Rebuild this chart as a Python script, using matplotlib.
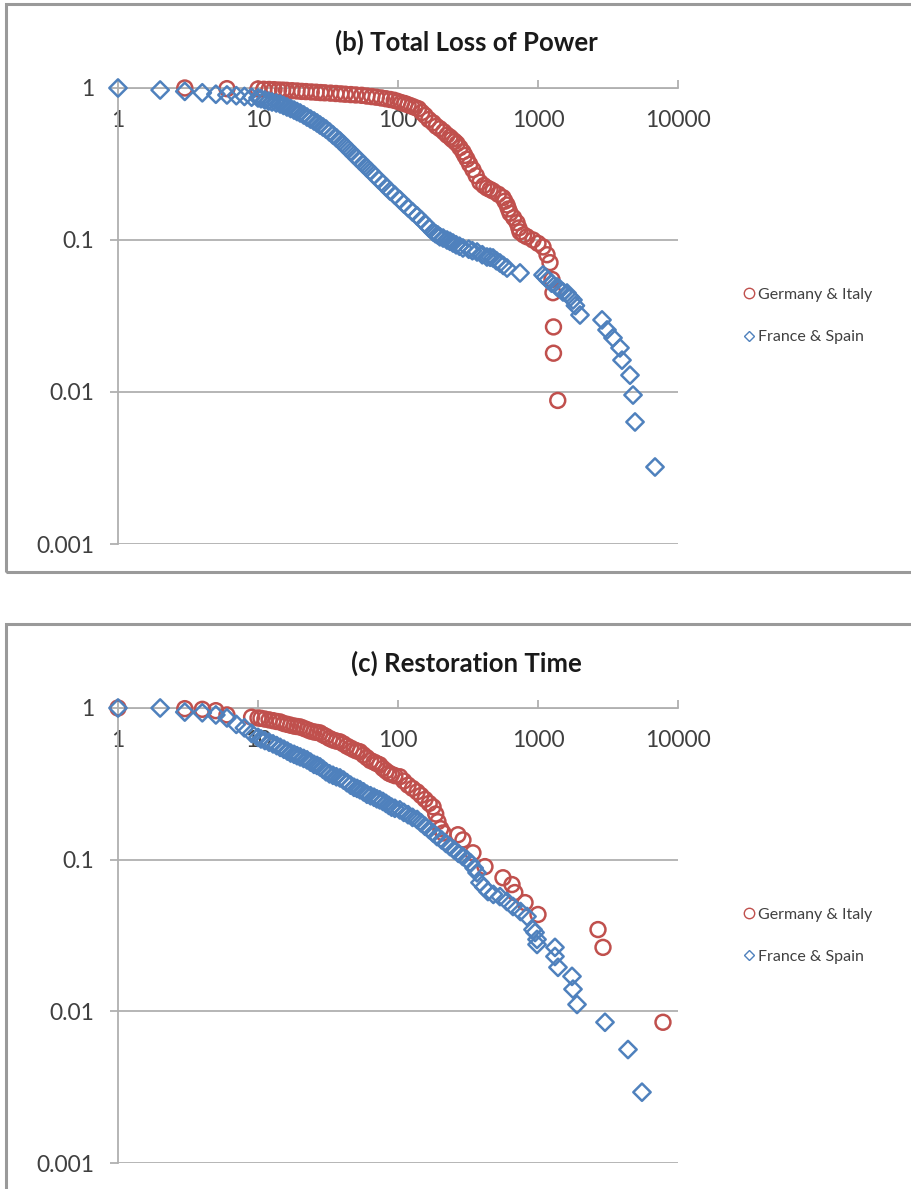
import matplotlib
matplotlib.use('Agg')
import matplotlib.pyplot as plt
from matplotlib.patches import Rectangle
from matplotlib.lines import Line2D
from matplotlib.ticker import FixedLocator, FixedFormatter, NullLocator

plt.rcParams['font.family'] = ['Lato', 'DejaVu Sans']

RED = '#c0504d'
BLUE = '#4f81bd'
GRID = '#b0b0b0'
TEXT = '#404040'

series_names = ['Germany & Italy', 'France & Spain']
x_ticks = [1, 10, 100, 1000, 10000]
x_labels = ['1', '10', '100', '1000', '10000']
y_ticks = [0.001, 0.01, 0.1, 1]
y_labels = ['0.001', '0.01', '0.1', '1']

# (b) Total Loss of Power - Germany & Italy
loss_gi_x = [3, 6, 10, 11, 12, 13, 14, 15, 16, 17.5, 19, 20.5, 22, 24, 26, 28, 30, 33, 36, 39,
             42, 46, 50, 55, 60, 65, 70, 76, 82, 88, 94, 100, 106, 112, 118, 125, 132, 140, 148,
             156, 166, 178, 188, 199, 212, 224, 235, 243, 254, 264, 277, 291, 300, 311, 325, 343,
             362, 385, 410, 432, 455, 477, 520, 562, 580, 601, 615, 632, 670, 708, 730, 744, 790,
             834, 921, 1000, 1086, 1160, 1218, 1258, 1279, 1290, 1290, 1384]
loss_gi_y = [1.0, 0.99, 0.985, 0.98, 0.978, 0.975, 0.97, 0.968, 0.965, 0.96, 0.956, 0.95, 0.947,
             0.942, 0.938, 0.933, 0.93, 0.925, 0.92, 0.915, 0.91, 0.905, 0.9, 0.895, 0.885, 0.878,
             0.87, 0.86, 0.85, 0.84, 0.83, 0.815, 0.8, 0.79, 0.775, 0.76, 0.745, 0.73, 0.69, 0.66,
             0.62, 0.59, 0.56, 0.54, 0.515, 0.49, 0.475, 0.46, 0.445, 0.43, 0.405, 0.38, 0.36, 0.34,
             0.315, 0.29, 0.265, 0.24, 0.228, 0.22, 0.215, 0.21, 0.2, 0.19, 0.18, 0.17, 0.16, 0.15,
             0.14, 0.13, 0.12, 0.113, 0.108, 0.105, 0.1, 0.095, 0.09, 0.08, 0.071, 0.055, 0.045,
             0.0268, 0.018, 0.0088]

# (b) Total Loss of Power - France & Spain
loss_fs_x = [1, 2, 3, 4, 5, 6, 7, 8, 9, 10, 10.5, 11.2, 11.9, 12.6, 13.5, 14.4, 15.2, 16.1, 17.1,
             18.1, 19, 20, 21.2, 22.4, 23.7, 25.1, 26.4, 27.7, 29.1, 30.6, 32.4, 34.3, 36.3, 38.5,
             40.8, 43.2, 45.8, 48.5, 51, 53.5, 56.7, 60, 63.6, 67.4, 72.6, 78.2, 82.8, 87.7, 95,
             103, 110, 118, 127, 137, 146, 156, 167, 178, 185, 192, 199, 210, 224, 235, 247, 260,
             275, 291, 320, 340, 367, 400, 432, 455, 477, 505, 535, 565, 601, 744, 1086, 1130,
             1179, 1250, 1367, 1420, 1509, 1611, 1700, 1778, 1850, 1995, 2866, 3112, 3434, 3853,
             3981, 4541, 4773, 4932, 6852]
loss_fs_y = [1.0, 0.97, 0.95, 0.93, 0.91, 0.9, 0.89, 0.88, 0.87, 0.86, 0.85, 0.834, 0.82, 0.809,
             0.797, 0.785, 0.768, 0.75, 0.733, 0.716, 0.7, 0.685, 0.665, 0.644, 0.625, 0.607, 0.589,
             0.571, 0.554, 0.537, 0.514, 0.491, 0.47, 0.448, 0.425, 0.403, 0.382, 0.362, 0.346,
             0.331, 0.314, 0.298, 0.283, 0.268, 0.25, 0.234, 0.222, 0.21, 0.197, 0.184, 0.173,
             0.163, 0.153, 0.144, 0.136, 0.128, 0.12, 0.113, 0.11, 0.108, 0.105, 0.103, 0.1, 0.098,
             0.0955, 0.093, 0.091, 0.0886, 0.087, 0.085, 0.0834, 0.08, 0.0773, 0.077, 0.0762, 0.073,
             0.0706, 0.068, 0.0654, 0.0607, 0.0589, 0.057, 0.0546, 0.052, 0.0491, 0.048, 0.0455,
             0.0448, 0.042, 0.0403, 0.037, 0.0321, 0.0298, 0.0256, 0.0227, 0.0195, 0.0162, 0.0129,
             0.00955, 0.00635, 0.00321]

# (c) Restoration Time - Germany & Italy
rest_gi_x = [1, 3, 4, 5, 6, 9, 10, 10.5, 11.2, 12, 12.8, 13.6, 14.4, 15.3, 16.2, 17.1, 18.1, 19,
             20, 21.2, 22.4, 23.7, 25.1, 26.4, 27.7, 29.1, 30.6, 32.4, 34.3, 36.3, 38.5, 40.8,
             43.2, 45.8, 48.5, 51, 53.5, 56.7, 60, 63.6, 67.4, 70.6, 74, 78, 82, 86, 90, 95, 103,
             110, 118, 127, 137, 146, 156, 167, 178, 186, 193, 202, 210, 268, 291, 343, 418, 562,
             652, 683, 808, 1000, 2683, 2912, 7810]
rest_gi_y = [1.0, 0.99, 0.98, 0.96, 0.9, 0.87, 0.86, 0.855, 0.845, 0.835, 0.825, 0.815, 0.809,
             0.79, 0.78, 0.77, 0.76, 0.755, 0.75, 0.735, 0.72, 0.705, 0.695, 0.69, 0.685, 0.665,
             0.65, 0.63, 0.615, 0.605, 0.598, 0.58, 0.56, 0.545, 0.53, 0.52, 0.514, 0.49, 0.47,
             0.45, 0.44, 0.43, 0.422, 0.4, 0.385, 0.372, 0.365, 0.358, 0.352, 0.33, 0.31, 0.295,
             0.28, 0.265, 0.25, 0.235, 0.223, 0.2, 0.178, 0.16, 0.15, 0.146, 0.135, 0.111, 0.09,
             0.076, 0.0685, 0.0607, 0.0521, 0.0435, 0.0346, 0.0264, 0.00847]

# (c) Restoration Time - France & Spain
rest_fs_x = [1, 2, 3, 4, 5, 6, 7, 8, 9, 10, 10.5, 11.2, 12, 12.8, 13.6, 14.4, 15.3, 16.2, 17.1,
             18.1, 19, 20, 21.2, 22.4, 23.7, 25.1, 26.4, 27.7, 29.1, 30.6, 32.4, 34.3, 36.3, 38.5,
             40.8, 43.2, 45.8, 48.5, 51, 53.5, 56.7, 60, 63.6, 67.4, 70.6, 74, 78, 82, 86, 90, 95,
             103, 110, 118, 127, 137, 146, 156, 167, 178, 190, 205, 220, 235, 252, 270, 290, 311,
             330, 350, 367, 385, 410, 439, 480, 535, 600, 663, 750, 835, 921, 953, 984, 984, 1322,
             1322, 1389, 1749, 1778, 1900, 3010, 4394, 5530]
rest_fs_y = [1.0, 1.0, 0.94, 0.93, 0.9, 0.86, 0.78, 0.74, 0.68, 0.64, 0.625, 0.61, 0.595, 0.58,
             0.565, 0.55, 0.535, 0.52, 0.505, 0.495, 0.485, 0.476, 0.465, 0.455, 0.44, 0.425,
             0.418, 0.409, 0.395, 0.38, 0.368, 0.36, 0.352, 0.346, 0.335, 0.322, 0.31, 0.3, 0.295,
             0.289, 0.28, 0.27, 0.264, 0.258, 0.252, 0.248, 0.242, 0.235, 0.228, 0.222, 0.218,
             0.213, 0.205, 0.198, 0.19, 0.184, 0.175, 0.166, 0.158, 0.15, 0.142, 0.135, 0.128,
             0.122, 0.116, 0.11, 0.105, 0.1, 0.095, 0.088, 0.082, 0.0706, 0.066, 0.0616, 0.059,
             0.0571, 0.053, 0.0491, 0.0455, 0.0422, 0.0346, 0.0331, 0.0298, 0.0276, 0.0264, 0.023,
             0.0195, 0.017, 0.014, 0.0111, 0.00847, 0.0056, 0.00293]

W, H = 912, 1189
fig = plt.figure(figsize=(W / 100, H / 100), dpi=100)


def px_box(left, top, right, bottom):
    return [left / W, 1 - bottom / H, (right - left) / W, (bottom - top) / H]


def draw_panel(ax, title, title_y, gx, gy, fx, fy):
    ax.set_xscale('log')
    ax.set_yscale('log')
    ax.set_xlim(1, 10000)
    ax.set_ylim(0.001, 1)

    ax.scatter(gx, gy, s=115, marker='o', facecolors='none', edgecolors=RED,
               linewidths=1.8, clip_on=False, zorder=3)
    ax.scatter(fx, fy, s=78, marker='D', facecolors='none', edgecolors=BLUE,
               linewidths=1.8, clip_on=False, zorder=4)

    for s in ['right', 'bottom']:
        ax.spines[s].set_visible(False)
    for s in ['left', 'top']:
        ax.spines[s].set_color(GRID)
        ax.spines[s].set_linewidth(1.3)

    ax.xaxis.set_major_locator(FixedLocator(x_ticks))
    ax.xaxis.set_major_formatter(FixedFormatter(x_labels))
    ax.xaxis.set_minor_locator(NullLocator())
    ax.yaxis.set_major_locator(FixedLocator(y_ticks))
    ax.yaxis.set_major_formatter(FixedFormatter(y_labels))
    ax.yaxis.set_minor_locator(NullLocator())

    ax.xaxis.set_ticks_position('top')
    ax.tick_params(axis='x', which='major', direction='out', length=6, width=1.3,
                   color=GRID, labeltop=True, labelbottom=False, pad=-37,
                   labelsize=16.5, labelcolor=TEXT)
    ax.tick_params(axis='y', which='major', direction='out', length=6, width=1.3,
                   color=GRID, pad=11, labelsize=16.5, labelcolor=TEXT)
    ax.grid(True, axis='y', color=GRID, linewidth=1.3)
    ax.set_axisbelow(True)

    fig.text(466 / W, 1 - title_y / H, title, ha='center', va='center',
             fontsize=18.5, fontweight='bold', color='#1a1a1a')

    handles = [
        Line2D([], [], linestyle='none', marker='o', markersize=7.5, markerfacecolor='none',
               markeredgecolor=RED, markeredgewidth=1.0),
        Line2D([], [], linestyle='none', marker='D', markersize=5.5, markerfacecolor='none',
               markeredgecolor=BLUE, markeredgewidth=1.0),
    ]
    ax.legend(handles, series_names, loc='center left', bbox_to_anchor=(1.092, 0.5),
              frameon=False, fontsize=11.5, handlelength=0.6, handletextpad=0.3,
              labelspacing=1.75, labelcolor=TEXT)


# panel frames
fig.patches.append(Rectangle((6 / W, 1 - 572 / H), 1.0, 568 / H, transform=fig.transFigure,
                             fill=False, edgecolor='#9a9a9a', linewidth=2.2))
fig.patches.append(Rectangle((6 / W, -0.05), 1.0, 0.05 + (1189 - 624) / H,
                             transform=fig.transFigure, fill=False, edgecolor='#9a9a9a',
                             linewidth=2.2))

ax1 = fig.add_axes(px_box(118, 88, 678, 544))
draw_panel(ax1, '(b) Total Loss of Power', 42, loss_gi_x, loss_gi_y, loss_fs_x, loss_fs_y)

ax2 = fig.add_axes(px_box(118, 708, 678, 1163))
draw_panel(ax2, '(c) Restoration Time', 663, rest_gi_x, rest_gi_y, rest_fs_x, rest_fs_y)

fig.savefig('out.png', dpi=100)
